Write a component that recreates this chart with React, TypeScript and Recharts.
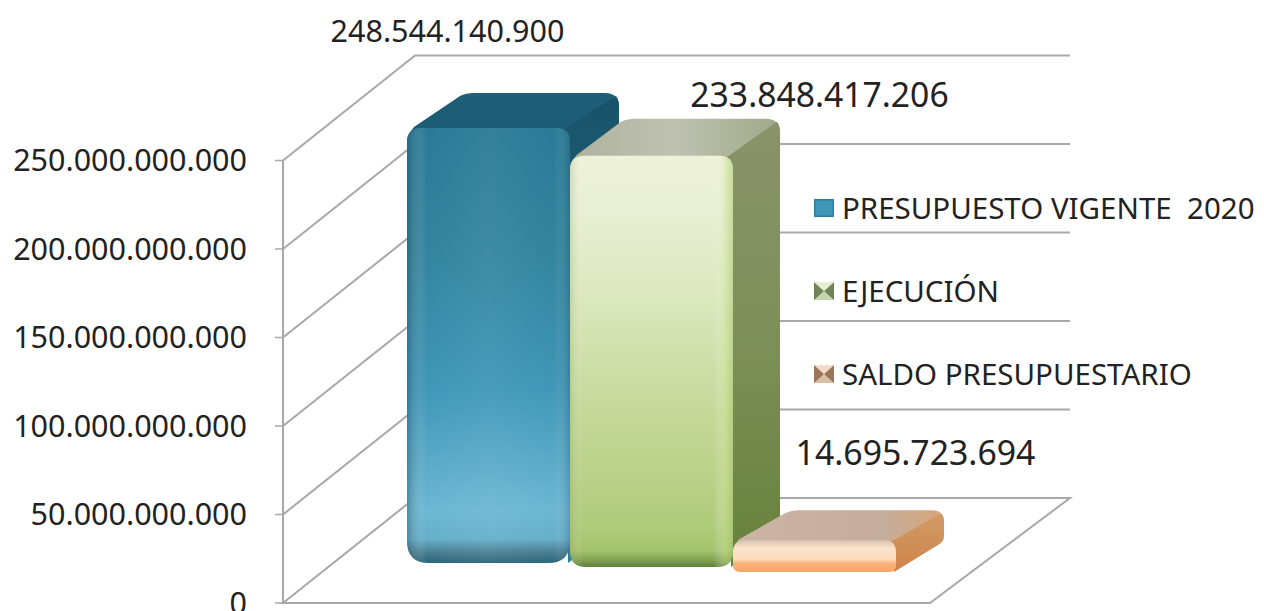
import { BarChart, Bar, XAxis, YAxis, CartesianGrid, Legend, LabelList } from "recharts";

const categories = ["2020"];
const seriesNames = ["PRESUPUESTO VIGENTE  2020", "EJECUCIÓN", "SALDO PRESUPUESTARIO"];
const presupuesto = [248544140900];
const ejecucion = [233848417206];
const saldo = [14695723694];
const yTicks = [0, 50000000000, 100000000000, 150000000000, 200000000000, 250000000000];

const data = categories.map((name, i) => ({
  name,
  presupuesto: presupuesto[i],
  ejecucion: ejecucion[i],
  saldo: saldo[i],
}));

const FONT = "'Noto Sans', sans-serif";
const GRID = "#a8a8a8";
const WALL_DX = 132;
const WALL_DY = 105;
const FLOOR_DX = 140;
const WALL_RIGHT = 1070;

// how each 3d bar sits on the floor, nothing here is a data value
const looks: Record<string, any> = {
  presupuesto: {
    id: "blue", lift: 40, extra: 0, depthX: 49, depthY: 35, corner: 14, base: 22,
    labelDx: -41, labelDy: -98, labelSize: 30.5,
    icon: ["#2f7f9c", "#3f97b7", "#2f7f9c", "#57aecb"],
  },
  ejecucion: {
    id: "green", lift: 36, extra: 2, depthX: 47, depthY: 37, corner: 14, base: 16,
    labelDx: 168, labelDy: -62, labelSize: 33.7,
    icon: ["#8d9a74", "#c7d3ad", "#6f8456", "#e6edd2"],
  },
  saldo: {
    id: "orange", lift: 31, extra: 6, depthX: 48, depthY: 30, corner: 12, base: 7,
    labelDx: 101, labelDy: -88, labelSize: 33.8,
    icon: ["#a98468", "#dcc0a6", "#9a765b", "#f0dcc8"],
  },
};

const formatNumber = (v: number) => String(v).replace(/\B(?=(\d{3})+(?!\d))/g, ".");

const Bar3D = (props: any) => {
  const { x, y, width, height, dataKey } = props;
  const look = looks[dataKey];
  const c = look.corner;
  const D = look.depthX;
  const E = look.depthY;
  const L = x + 45;
  const R = L + width;
  const B = y + height - look.lift;
  const T = B - height * 0.989 - look.extra;
  const b = look.base;

  const top = `M${L},${T + c} Q${L},${T + c / 2} ${L + c / 2},${T - 1} L${L + D + 4},${T - E + 3} Q${L + D + 10},${T - E} ${L + D + 18},${T - E} L${R + D - c},${T - E} Q${R + D},${T - E} ${R + D},${T - E + c} L${R},${T + c} Z`;
  const side = `M${R - c / 2},${T + 2} L${R + D - 3},${T - E + 3} Q${R + D},${T - E + c / 2} ${R + D},${T - E + c} L${R + D},${B - E - c / 2} Q${R + D},${B - E} ${R + D - c / 2},${B - E + 3} L${R - 2},${B} Z`;
  const front = `M${L},${T + c} Q${L},${T} ${L + c},${T} L${R - c},${T} Q${R},${T} ${R},${T + c} L${R},${B - b} Q${R},${B} ${R - b},${B} L${L + b},${B} Q${L},${B} ${L},${B - b} Z`;

  return (
    <g>
      <path d={top} fill={`url(#${look.id}-top)`} />
      <path d={side} fill={`url(#${look.id}-side)`} />
      <path d={front} fill={`url(#${look.id}-front)`} />
      <path d={front} fill={`url(#${look.id}-edge)`} />
      <path
        d={`M${L + c},${T + 5} L${R - c},${T + 5}`}
        stroke={`url(#${look.id}-rim)`}
        strokeWidth={8}
        fill="none"
        filter="url(#soft)"
      />
    </g>
  );
};

const makeLabel = (dataKey: string) => (props: any) => {
  const { x, y, width, height, value } = props;
  const look = looks[dataKey];
  const B = y + height - look.lift;
  const T = B - height * 0.989 - look.extra;
  return (
    <text
      x={x + 45 + width / 2 + look.labelDx}
      y={T + look.labelDy}
      textAnchor="middle"
      dominantBaseline="central"
      fontFamily={FONT}
      fontSize={look.labelSize}
      fill="#222"
    >
      {formatNumber(value)}
    </text>
  );
};

// wall and floor of the box come from the tick positions
const WallLine = (props: any) => {
  const { x1, y1, x2 } = props;
  const isFloor = y1 > 600;
  const d = isFloor
    ? `M${x1},${y1} L${x2},${y1} L${x2 + FLOOR_DX},${y1 - WALL_DY} L${x1 + WALL_DX},${y1 - WALL_DY} Z`
    : `M${x1},${y1} L${x1 + WALL_DX},${y1 - WALL_DY} L${WALL_RIGHT},${y1 - WALL_DY}`;
  return <path key={`wall-${y1}`} d={d} stroke={GRID} strokeWidth={2} fill="none" />;
};

const LegendIcon = ({ colors, flat }: { colors: string[]; flat: boolean }) => (
  <svg width={20} height={18} style={{ flex: "none" }}>
    <rect width={20} height={18} fill={colors[1]} />
    {flat ? (
      <rect width={20} height={18} fill="none" stroke={colors[0]} strokeWidth={3} />
    ) : (
      <>
        <polygon points="0,0 10,9 0,18" fill={colors[2]} />
        <polygon points="20,0 10,9 20,18" fill={colors[2]} />
        <polygon points="0,0 20,0 10,9" fill={colors[3]} />
      </>
    )}
  </svg>
);

const LegendContent = ({ payload }: any) => (
  <div style={{ fontFamily: FONT, fontSize: 29.5, color: "#222" }}>
    {(payload || []).map((entry: any, i: number) => (
      <div
        key={entry.dataKey}
        style={{ display: "flex", alignItems: "center", height: 83, gap: 8, whiteSpace: "pre" }}
      >
        <LegendIcon colors={looks[entry.dataKey].icon} flat={i === 0} />
        <span>{entry.value}</span>
      </div>
    ))}
  </div>
);

const stops = (list: [number, string][]) =>
  list.map(([o, col]) => <stop key={o} offset={o} stopColor={col} />);

export default function App() {
  return (
    <div style={{ position: "absolute", left: 0, top: 0, width: 1264, height: 611, background: "#fff" }}>
      <BarChart
        width={1264}
        height={611}
        data={data}
        barSize={163}
        barGap={0}
        margin={{ top: 160.5, right: 334, bottom: 8, left: 0 }}
      >
        <defs>
          <filter id="soft" x="-10%" y="-300%" width="120%" height="700%">
            <feGaussianBlur stdDeviation="3" />
          </filter>
          <linearGradient id="blue-front" x1="0" y1="0" x2="0" y2="1">
            {stops([[0, "#2a7a96"], [0.3, "#34859f"], [0.6, "#3f97b7"], [0.88, "#6cb7d3"], [0.945, "#66afca"], [0.975, "#4a7f92"], [1, "#2c6478"]])}
          </linearGradient>
          <linearGradient id="blue-edge" x1="0" y1="0" x2="1" y2="0">
            <stop offset={0} stopColor="#123f52" stopOpacity={0.35} />
            <stop offset={0.12} stopColor="#ffffff" stopOpacity={0} />
            <stop offset={0.5} stopColor="#ffffff" stopOpacity={0.05} />
            <stop offset={0.9} stopColor="#ffffff" stopOpacity={0} />
            <stop offset={1} stopColor="#123f52" stopOpacity={0.22} />
          </linearGradient>
          <linearGradient id="blue-top" x1="0" y1="0" x2="0" y2="1">
            {stops([[0, "#1f5f78"], [1, "#1b5a72"]])}
          </linearGradient>
          <linearGradient id="blue-side" x1="0" y1="0" x2="0" y2="1">
            {stops([[0, "#185269"], [1, "#2c7f9c"]])}
          </linearGradient>
          <linearGradient id="blue-rim" x1="0" y1="0" x2="1" y2="0">
            {stops([[0, "#2f8099"], [1, "#2f8099"]])}
          </linearGradient>

          <linearGradient id="green-front" x1="0" y1="0" x2="0" y2="1">
            {stops([[0, "#eef2d8"], [0.12, "#e9efd6"], [0.35, "#dbe7bd"], [0.65, "#c4d796"], [0.9, "#b0cb7c"], [0.96, "#a3c36c"], [0.985, "#7d9e50"], [1, "#5f7f3c"]])}
          </linearGradient>
          <linearGradient id="green-edge" x1="0" y1="0" x2="1" y2="0">
            <stop offset={0} stopColor="#7d9a52" stopOpacity={0.25} />
            <stop offset={0.08} stopColor="#ffffff" stopOpacity={0} />
            <stop offset={0.88} stopColor="#ffffff" stopOpacity={0} />
            <stop offset={0.96} stopColor="#c8e08a" stopOpacity={0.45} />
            <stop offset={1} stopColor="#a4c26c" stopOpacity={0.5} />
          </linearGradient>
          <linearGradient id="green-top" x1="0" y1="0" x2="1" y2="0">
            {stops([[0, "#aeb29c"], [0.5, "#bfc2b2"], [1, "#a0a988"]])}
          </linearGradient>
          <linearGradient id="green-side" x1="0" y1="0" x2="0" y2="1">
            {stops([[0, "#89936a"], [0.5, "#7d8f58"], [1, "#66813a"]])}
          </linearGradient>
          <linearGradient id="green-rim" x1="0" y1="0" x2="1" y2="0">
            {stops([[0, "#fbffe2"], [1, "#fbffe2"]])}
          </linearGradient>

          <linearGradient id="orange-front" x1="0" y1="0" x2="0" y2="1">
            {stops([[0, "#d9c3b0"], [0.25, "#fbe3cc"], [0.6, "#fedcbc"], [0.72, "#f9b47c"], [1, "#f8a467"]])}
          </linearGradient>
          <linearGradient id="orange-edge" x1="0" y1="0" x2="1" y2="0">
            <stop offset={0} stopColor="#ffffff" stopOpacity={0} />
            <stop offset={1} stopColor="#ffffff" stopOpacity={0} />
          </linearGradient>
          <linearGradient id="orange-top" x1="0" y1="0" x2="1" y2="0">
            {stops([[0, "#cdb5a6"], [0.7, "#c4ad9c"], [1, "#d9a679"]])}
          </linearGradient>
          <linearGradient id="orange-side" x1="0" y1="0" x2="0" y2="1">
            {stops([[0, "#d09a68"], [1, "#cf8448"]])}
          </linearGradient>
          <linearGradient id="orange-rim" x1="0" y1="0" x2="1" y2="0">
            {stops([[0, "#e6d2bf"], [1, "#e6d2bf"]])}
          </linearGradient>
        </defs>
        <CartesianGrid vertical={false} horizontal={(p: any) => <WallLine {...p} />} />
        <XAxis dataKey="name" hide />
        <YAxis
          width={283}
          domain={[0, 250000000000]}
          ticks={yTicks}
          interval={0}
          tickFormatter={formatNumber}
          tickSize={8}
          tickMargin={28}
          axisLine={{ stroke: GRID, strokeWidth: 2 }}
          tickLine={{ stroke: GRID, strokeWidth: 1.5 }}
          tick={{ fontFamily: FONT, fontSize: 30.5, fill: "#222" }}
        />
        <Legend
          layout="horizontal"
          verticalAlign="middle"
          align="center"
          itemSorter={null}
          content={<LegendContent />}
          wrapperStyle={{ position: "absolute", left: 814, top: 166, width: 450 }}
        />
        <Bar dataKey="presupuesto" name={seriesNames[0]} fill="#3f97b7" shape={<Bar3D />} isAnimationActive={false}>
          <LabelList dataKey="presupuesto" content={makeLabel("presupuesto")} />
        </Bar>
        <Bar dataKey="ejecucion" name={seriesNames[1]} fill="#c4d796" shape={<Bar3D />} isAnimationActive={false}>
          <LabelList dataKey="ejecucion" content={makeLabel("ejecucion")} />
        </Bar>
        <Bar dataKey="saldo" name={seriesNames[2]} fill="#f9ad70" shape={<Bar3D />} isAnimationActive={false}>
          <LabelList dataKey="saldo" content={makeLabel("saldo")} />
        </Bar>
      </BarChart>
    </div>
  );
}
